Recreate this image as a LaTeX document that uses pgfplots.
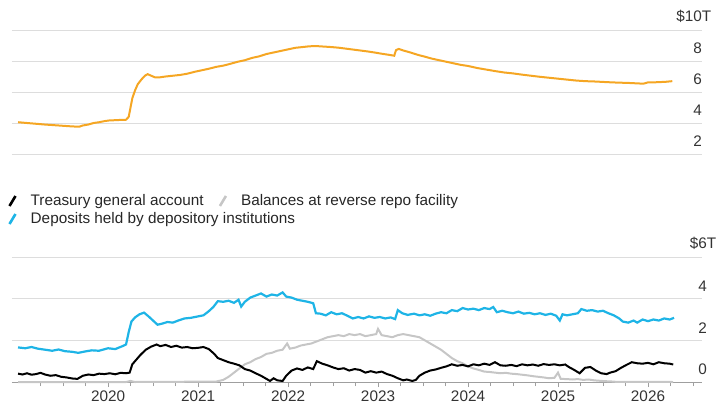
\documentclass[border=0pt]{standalone}
\usepackage{fontspec}
\setmainfont{Liberation Sans}
\usepackage{pgfplots}
\pgfplotsset{compat=1.18}
\definecolor{orng}{HTML}{F5A623}
\definecolor{cyn}{HTML}{1EB4E6}
\definecolor{gry}{HTML}{C6C6C6}
\definecolor{gridc}{HTML}{DDDDDD}
\definecolor{lab}{HTML}{333333}
\begin{document}
\begin{tikzpicture}
\path[use as bounding box] (0pt,0pt) rectangle (720pt,405pt);
\pgfplotsset{
  every axis/.append style={font=\fontsize{15.3}{18}\selectfont},
  slashleg/.style={legend image code/.code={\draw[line width=2.6pt] (0pt,-5pt) -- (6pt,5pt); \path (19pt,0pt);}},
}
% ---------------- top panel ----------------
\begin{axis}[
  at={(12pt,235.5pt)}, anchor=south west, scale only axis,
  width=690pt, height=139.5pt,
  xmin=2018.933, xmax=2026.6, ymin=1, ymax=10,
  axis line style={draw=none},
  xtick=\empty,
  ytick={2,4,6,8,10},
  yticklabels={2,4,6,8,\llap{\$}10\rlap{T}},
  ymajorgrids, major grid style={gridc, line width=0.9pt},
  yticklabel pos=right, y tick style={draw=none}, major tick length=0pt,
  yticklabel style={anchor=south east, inner sep=0pt, yshift=7pt, text=lab},
  clip=false,
  legend style={at={(0,0)}, anchor=west, yshift=-49.5pt, xshift=-4pt,
    draw=none, fill=none, inner sep=0pt, text=black!85,
    font=\fontsize{15.3}{18}\selectfont},
  legend cell align=left,
]
\addlegendimage{cyn, slashleg}
\addlegendentry{Deposits held by depository institutions}
\addplot[orng, line width=2pt, forget plot] coordinates {
(2019.00,4.05)(2019.10,4.00)(2019.20,3.95)(2019.30,3.90)(2019.40,3.86)(2019.50,3.82)
(2019.60,3.78)(2019.68,3.76)(2019.72,3.84)(2019.78,3.90)(2019.84,4.00)(2019.90,4.05)
(2019.96,4.12)(2020.02,4.17)(2020.08,4.18)(2020.14,4.20)(2020.20,4.21)(2020.23,4.40)
(2020.25,5.0)(2020.27,5.6)(2020.30,6.1)(2020.33,6.5)(2020.37,6.8)(2020.41,7.05)
(2020.44,7.15)(2020.48,7.05)(2020.52,6.95)(2020.58,6.95)(2020.64,7.00)(2020.72,7.05)
(2020.80,7.10)(2020.88,7.18)(2020.96,7.30)(2021.04,7.40)(2021.12,7.50)(2021.20,7.62)
(2021.28,7.70)(2021.36,7.82)(2021.44,7.95)(2021.52,8.05)(2021.60,8.20)(2021.68,8.30)
(2021.76,8.45)(2021.84,8.55)(2021.92,8.65)(2022.00,8.75)(2022.08,8.85)(2022.16,8.90)
(2022.24,8.95)(2022.32,8.96)(2022.40,8.93)(2022.48,8.90)(2022.56,8.86)(2022.64,8.80)
(2022.72,8.74)(2022.80,8.68)(2022.88,8.62)(2022.96,8.55)(2023.04,8.47)(2023.12,8.40)
(2023.18,8.34)(2023.20,8.70)(2023.23,8.78)(2023.28,8.68)(2023.36,8.55)(2023.44,8.40)
(2023.52,8.28)(2023.60,8.15)(2023.68,8.05)(2023.76,7.95)(2023.84,7.85)(2023.92,7.75)
(2024.00,7.68)(2024.10,7.55)(2024.20,7.45)(2024.30,7.35)(2024.40,7.26)(2024.50,7.20)
(2024.60,7.12)(2024.70,7.05)(2024.80,6.98)(2024.90,6.92)(2025.00,6.86)(2025.10,6.80)
(2025.20,6.74)(2025.30,6.70)(2025.40,6.68)(2025.50,6.65)(2025.60,6.62)(2025.70,6.60)
(2025.80,6.58)(2025.90,6.55)(2025.95,6.54)(2026.00,6.62)(2026.10,6.63)(2026.20,6.66)
(2026.27,6.70)
};
\end{axis}
% ---------------- bottom panel ----------------
\begin{axis}[
  at={(12pt,23pt)}, anchor=south west, scale only axis,
  width=690pt, height=125pt,
  xmin=2018.933, xmax=2026.6, ymin=0, ymax=6,
  axis x line*=bottom, axis y line*=right,
  y axis line style={draw=none},
  x axis line style={draw=gray!75, line width=0.9pt, -},
  xtick={2020,2021,2022,2023,2024,2025,2026},
  xticklabels={2020,2021,2022,2023,2024,2025,2026},
  minor xtick={2019.25,2019.5,2019.75,2020.25,2020.5,2020.75,2021.25,2021.5,2021.75,
    2022.25,2022.5,2022.75,2023.25,2023.5,2023.75,2024.25,2024.5,2024.75,
    2025.25,2025.5,2025.75,2026.25,2026.5},
  tick align=outside, major tick length=5pt, minor tick length=4pt,
  x tick style={draw=gray!75, line width=0.8pt},
  xticklabel style={text=lab},
  ytick={0,2,4,6},
  yticklabels={0,2,4,\llap{\$}6\rlap{T}},
  ymajorgrids, major grid style={gridc, line width=0.9pt},
  yticklabel pos=right, y tick style={draw=none},
  yticklabel style={anchor=south east, inner sep=0pt, yshift=7pt, text=lab},
  clip=false,
  legend columns=-1,
  legend style={at={(0,1)}, anchor=west, yshift=56pt, xshift=-4pt,
    draw=none, fill=none, inner sep=0pt, text=black!85,
    font=\fontsize{15.3}{18}\selectfont,
    /tikz/column 2/.style={column sep=13pt}},
  legend cell align=left,
]
\addlegendimage{black, slashleg}
\addlegendentry{Treasury general account}
\addlegendimage{gry, slashleg}
\addlegendentry{Balances at reverse repo facility}
% reverse repo
\addplot[gry, line width=2pt, forget plot] coordinates {
(2019.00,0.00)(2020.20,0.00)(2020.25,0.05)(2020.30,0.00)(2021.20,0.02)(2021.28,0.10)
(2021.34,0.25)(2021.40,0.45)(2021.46,0.65)(2021.52,0.85)(2021.58,0.95)(2021.64,1.10)
(2021.70,1.20)(2021.76,1.35)(2021.82,1.40)(2021.88,1.50)(2021.94,1.55)(2021.99,1.85)
(2022.02,1.60)(2022.08,1.65)(2022.14,1.75)(2022.20,1.80)(2022.26,1.85)(2022.32,1.95)
(2022.38,2.05)(2022.44,2.15)(2022.50,2.20)(2022.56,2.25)(2022.62,2.20)(2022.68,2.30)
(2022.74,2.25)(2022.80,2.30)(2022.86,2.20)(2022.92,2.25)(2022.98,2.30)(2023.00,2.55)
(2023.04,2.25)(2023.10,2.20)(2023.16,2.15)(2023.22,2.25)(2023.28,2.30)(2023.34,2.25)
(2023.40,2.20)(2023.46,2.15)(2023.52,2.00)(2023.58,1.85)(2023.64,1.70)(2023.70,1.55)
(2023.76,1.35)(2023.82,1.15)(2023.88,1.00)(2023.94,0.90)(2024.00,0.75)(2024.06,0.65)
(2024.12,0.58)(2024.18,0.50)(2024.24,0.48)(2024.30,0.45)(2024.36,0.42)(2024.42,0.44)
(2024.48,0.40)(2024.54,0.38)(2024.60,0.35)(2024.66,0.32)(2024.72,0.28)(2024.78,0.25)
(2024.84,0.22)(2024.90,0.18)(2024.96,0.20)(2025.00,0.45)(2025.03,0.15)(2025.10,0.14)
(2025.16,0.12)(2025.22,0.14)(2025.28,0.10)(2025.34,0.12)(2025.40,0.08)(2025.46,0.06)
(2025.52,0.04)(2025.58,0.03)(2025.64,0.01)(2026.28,0.00)
};
% deposits (reserves)
\addplot[cyn, line width=2.2pt, forget plot] coordinates {
(2019.00,1.66)(2019.08,1.62)(2019.15,1.68)(2019.22,1.60)(2019.30,1.55)(2019.38,1.50)
(2019.45,1.56)(2019.52,1.48)(2019.60,1.45)(2019.67,1.40)(2019.75,1.47)(2019.82,1.52)
(2019.90,1.50)(2020.00,1.62)(2020.08,1.58)(2020.16,1.72)(2020.20,1.80)(2020.23,2.40)
(2020.26,2.90)(2020.30,3.10)(2020.35,3.25)(2020.40,3.33)(2020.45,3.15)(2020.50,2.95)
(2020.55,2.75)(2020.60,2.80)(2020.66,2.88)(2020.72,2.85)(2020.78,2.95)(2020.85,3.05)
(2020.92,3.08)(2021.00,3.15)(2021.06,3.20)(2021.12,3.40)(2021.17,3.60)(2021.22,3.88)
(2021.28,3.85)(2021.34,3.90)(2021.40,3.80)(2021.45,3.95)(2021.48,3.62)(2021.52,3.85)
(2021.58,4.05)(2021.64,4.15)(2021.70,4.25)(2021.76,4.10)(2021.82,4.20)(2021.88,4.15)
(2021.94,4.30)(2021.98,4.10)(2022.04,4.05)(2022.10,3.95)(2022.16,3.90)(2022.22,3.85)
(2022.28,3.78)(2022.31,3.30)(2022.36,3.28)(2022.42,3.20)(2022.48,3.35)(2022.54,3.25)
(2022.60,3.30)(2022.66,3.18)(2022.72,3.05)(2022.78,3.12)(2022.84,3.05)(2022.90,3.15)
(2022.96,3.08)(2023.02,3.12)(2023.08,3.05)(2023.14,3.10)(2023.19,3.02)(2023.22,3.45)
(2023.27,3.30)(2023.33,3.22)(2023.40,3.28)(2023.46,3.20)(2023.52,3.25)(2023.58,3.18)
(2023.64,3.28)(2023.70,3.35)(2023.76,3.30)(2023.82,3.45)(2023.88,3.40)(2023.94,3.55)
(2024.00,3.48)(2024.06,3.52)(2024.12,3.45)(2024.18,3.55)(2024.24,3.50)(2024.28,3.60)
(2024.32,3.35)(2024.38,3.42)(2024.44,3.35)(2024.50,3.30)(2024.56,3.38)(2024.62,3.28)
(2024.68,3.32)(2024.74,3.25)(2024.80,3.30)(2024.86,3.22)(2024.92,3.28)(2024.98,3.18)
(2025.02,2.95)(2025.05,3.25)(2025.10,3.20)(2025.16,3.25)(2025.22,3.30)(2025.26,3.50)
(2025.32,3.42)(2025.38,3.45)(2025.44,3.38)(2025.50,3.42)(2025.56,3.30)(2025.62,3.20)
(2025.68,3.05)(2025.72,2.90)(2025.78,2.85)(2025.84,2.95)(2025.88,2.85)(2025.94,3.00)
(2026.00,2.92)(2026.06,3.00)(2026.12,2.95)(2026.18,3.05)(2026.24,3.00)(2026.29,3.08)
};
% treasury general account
\addplot[black, line width=2pt, forget plot] coordinates {
(2019.00,0.40)(2019.05,0.36)(2019.10,0.42)(2019.15,0.35)(2019.20,0.38)(2019.25,0.44)
(2019.30,0.36)(2019.36,0.30)(2019.42,0.33)(2019.48,0.25)(2019.54,0.22)(2019.60,0.17)
(2019.66,0.15)(2019.72,0.30)(2019.78,0.36)(2019.84,0.33)(2019.90,0.40)(2019.96,0.38)
(2020.02,0.42)(2020.08,0.37)(2020.14,0.44)(2020.20,0.42)(2020.24,0.45)(2020.27,0.85)
(2020.31,1.05)(2020.36,1.30)(2020.42,1.55)(2020.48,1.70)(2020.54,1.80)(2020.58,1.72)
(2020.64,1.78)(2020.70,1.68)(2020.76,1.74)(2020.82,1.65)(2020.88,1.68)(2020.94,1.62)
(2021.00,1.64)(2021.06,1.68)(2021.12,1.58)(2021.18,1.35)(2021.22,1.15)(2021.28,1.05)
(2021.34,0.95)(2021.40,0.88)(2021.46,0.80)(2021.52,0.62)(2021.58,0.55)(2021.64,0.42)
(2021.70,0.30)(2021.76,0.15)(2021.80,0.05)(2021.84,0.18)(2021.88,0.08)(2021.94,0.05)
(2021.98,0.30)(2022.04,0.55)(2022.10,0.65)(2022.16,0.58)(2022.22,0.70)(2022.28,0.62)
(2022.32,1.00)(2022.38,0.88)(2022.44,0.80)(2022.50,0.70)(2022.56,0.62)(2022.62,0.66)
(2022.68,0.55)(2022.74,0.62)(2022.80,0.58)(2022.86,0.45)(2022.92,0.52)(2022.98,0.45)
(2023.04,0.50)(2023.10,0.38)(2023.16,0.30)(2023.22,0.18)(2023.28,0.08)(2023.32,0.12)
(2023.38,0.05)(2023.42,0.10)(2023.46,0.30)(2023.52,0.45)(2023.58,0.55)(2023.64,0.60)
(2023.70,0.68)(2023.76,0.75)(2023.82,0.85)(2023.88,0.78)(2023.94,0.82)(2024.00,0.75)
(2024.06,0.85)(2024.12,0.80)(2024.18,0.88)(2024.24,0.82)(2024.30,0.95)(2024.36,0.80)
(2024.42,0.78)(2024.48,0.82)(2024.54,0.76)(2024.60,0.85)(2024.66,0.80)(2024.72,0.84)
(2024.78,0.78)(2024.84,0.86)(2024.90,0.82)(2024.96,0.85)(2025.02,0.80)(2025.08,0.84)
(2025.12,0.72)(2025.18,0.58)(2025.24,0.42)(2025.30,0.68)(2025.36,0.72)(2025.42,0.55)
(2025.48,0.42)(2025.54,0.38)(2025.58,0.45)(2025.64,0.52)(2025.70,0.68)(2025.76,0.82)
(2025.82,0.95)(2025.88,0.90)(2025.94,0.88)(2026.00,0.92)(2026.06,0.85)(2026.12,0.95)
(2026.18,0.90)(2026.24,0.88)(2026.28,0.84)
};
\end{axis}
\end{tikzpicture}
\end{document}
